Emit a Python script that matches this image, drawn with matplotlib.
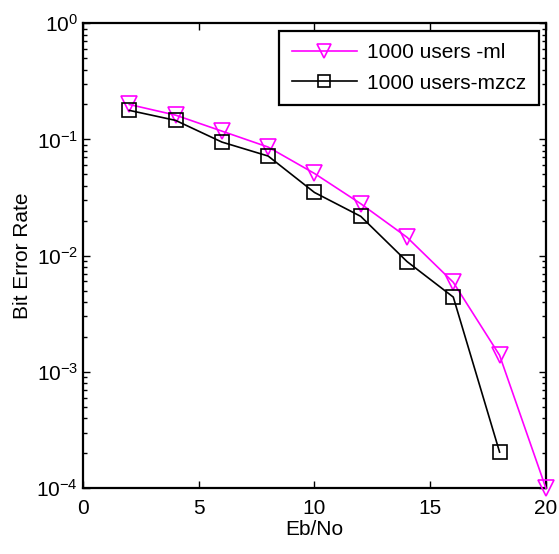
import math
import matplotlib.pyplot as plt
from matplotlib.ticker import LogLocator, FixedLocator, FuncFormatter

plt.rcParams['font.family'] = ['Liberation Sans', 'DejaVu Sans']
plt.rcParams['mathtext.fontset'] = 'custom'
plt.rcParams['mathtext.rm'] = 'Liberation Sans'
plt.rcParams['mathtext.it'] = 'Liberation Sans'

# Eb/No (dB) and bit error rates for the two detectors
ebno = [2, 4, 6, 8, 10, 12, 14, 16, 18, 20]
ber_ml = [0.20, 0.162, 0.118, 0.086, 0.051, 0.028, 0.0144, 0.0059, 0.00139, 0.0001]
ebno_mzcz = [2, 4, 6, 8, 10, 12, 14, 16, 18]
ber_mzcz = [0.178, 0.146, 0.095, 0.072, 0.035, 0.0218, 0.0089, 0.0044, 0.000204]

fig = plt.figure(figsize=(5.59, 5.54), dpi=100)
ax = fig.add_axes([0.1485, 0.119, 0.828, 0.839])

ax.semilogy(ebno, ber_ml, '-', color='#ff00ff', lw=1.2, marker='v',
            markersize=12, markerfacecolor='none', markeredgewidth=1.2,
            label='1000 users -ml', clip_on=False, zorder=3)
ax.semilogy(ebno_mzcz, ber_mzcz, '-', color='black', lw=1.2, marker='s',
            markersize=10, markerfacecolor='none', markeredgewidth=1.2,
            label='1000 users-mzcz', clip_on=False, zorder=3)

ax.set_xlim(0, 20)
ax.set_ylim(1e-4, 1)
ax.xaxis.set_major_locator(FixedLocator([0, 5, 10, 15, 20]))
ax.yaxis.set_major_locator(LogLocator(base=10))
ax.yaxis.set_minor_locator(LogLocator(base=10, subs=range(2, 10)))
ax.yaxis.set_major_formatter(FuncFormatter(lambda v, p: r'$10^{%d}$' % round(math.log10(v))))

ax.tick_params(which='both', direction='in', top=True, right=True, labelsize=15)
ax.tick_params(which='major', length=5, width=1)
ax.tick_params(which='minor', length=3, width=1)
ax.tick_params(axis='x', pad=8)
for s in ax.spines.values():
    s.set_linewidth(1.6)

ax.set_xlabel('Eb/No', fontsize=15, labelpad=1)
ax.set_ylabel('Bit Error Rate', fontsize=15, labelpad=3)

leg = ax.legend(loc='upper right', fontsize=15, fancybox=False, framealpha=1,
                edgecolor='black', handlelength=3.1, handletextpad=0.5,
                borderpad=0.6, labelspacing=0.55, borderaxespad=0.35,
                markerscale=0.8)
leg.get_frame().set_linewidth(1.6)

fig.savefig('out.png', dpi=100)
